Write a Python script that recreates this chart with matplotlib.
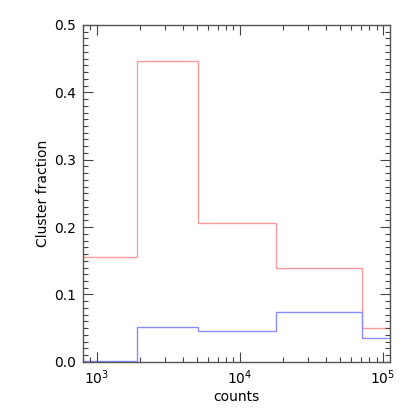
import numpy as np
import matplotlib.pyplot as plt
from matplotlib.ticker import LogLocator, MultipleLocator, LogFormatterMathtext

# bin edges in counts
edges = [500, 1900, 5100, 18000, 71000, 200000]
red_frac = [0.155, 0.446, 0.206, 0.139, 0.050]
blue_frac = [0.002, 0.052, 0.046, 0.074, 0.036]

fig = plt.figure(figsize=(4.15, 4.15), dpi=100)
ax = fig.add_axes([0.2, 0.128, 0.74, 0.812])

ax.stairs(red_frac, edges, color=(1.0, 0.6, 0.6), linewidth=1.0)
ax.stairs(blue_frac, edges, color=(0.55, 0.55, 1.0), linewidth=1.0)

ax.set_xscale('log')
ax.set_xlim(800, 1.12e5)
ax.set_ylim(0, 0.5)

ax.xaxis.set_major_locator(LogLocator(base=10))
ax.xaxis.set_minor_locator(LogLocator(base=10, subs=np.arange(2, 10)))
ax.xaxis.set_major_formatter(LogFormatterMathtext())
ax.yaxis.set_major_locator(MultipleLocator(0.1))
ax.yaxis.set_minor_locator(MultipleLocator(0.01))
ax.yaxis.set_major_formatter(plt.FormatStrFormatter('%.1f'))

ax.tick_params(which='both', direction='in', top=True, right=True,
               color='#444444', labelsize=10)
ax.tick_params(which='major', length=7, width=0.8, pad=5)
ax.tick_params(which='minor', length=3.5, width=0.8)
for s in ax.spines.values():
	s.set_color('#555555')
	s.set_linewidth(1.0)

ax.set_xlabel('counts', fontsize=10, labelpad=2)
ax.set_ylabel('Cluster fraction', fontsize=10, labelpad=3)

plt.savefig('out.png', dpi=100)
